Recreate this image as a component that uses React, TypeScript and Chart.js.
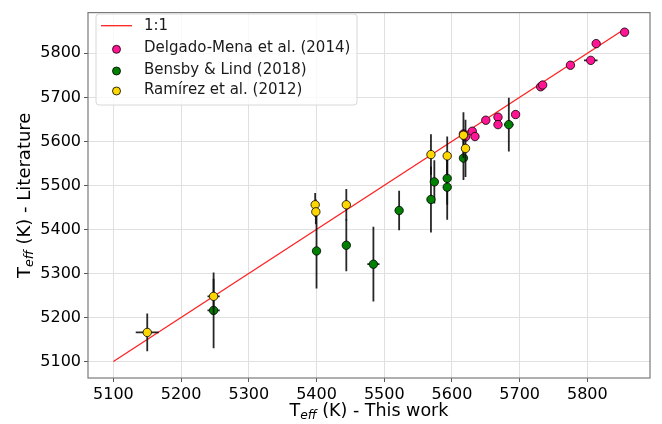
import React, { useEffect, useRef } from "react";
import { Chart, registerables } from "chart.js";

Chart.register(...registerables);

// ---- data ----
const oneToOne = [5100, 5850];

const delgadoX = [5617, 5620, 5630, 5634, 5650, 5668, 5668, 5694, 5731, 5734, 5775, 5805, 5813, 5855];
const delgadoY = [5617, 5610, 5623, 5611, 5648, 5655, 5638, 5661, 5724, 5728, 5773, 5784, 5822, 5848];
const delgadoXErr = [4, 4, 4, 4, 4, 4, 4, 4, 4, 4, 4, 10, 4, 4];
const delgadoYErr = [4, 4, 4, 4, 4, 4, 4, 4, 4, 4, 4, 4, 4, 4];

const bensbyX = [5248, 5400, 5444, 5484, 5522, 5569, 5574, 5593, 5593, 5617, 5684];
const bensbyY = [5216, 5351, 5364, 5321, 5443, 5468, 5508, 5516, 5496, 5562, 5638];
const bensbyXErr = [9, 3, 3, 9, 3, 3, 3, 3, 3, 3, 7];
const bensbyYErr = [86, 85, 59, 85, 45, 75, 49, 60, 74, 50, 61];

const ramirezX = [5150, 5248, 5398, 5399, 5444, 5569, 5593, 5617, 5620];
const ramirezY = [5166, 5248, 5456, 5440, 5456, 5570, 5567, 5614, 5584];
const ramirezXErr = [17, 9, 3, 3, 3, 3, 3, 3, 3];
const ramirezYErr = [43, 40, 27, 28, 36, 46, 44, 52, 65];

const tickValues = [5100, 5200, 5300, 5400, 5500, 5600, 5700, 5800];
const axisMin = 5062.5;
const axisMax = 5892.5;

const labels = ["1:1", "Delgado-Mena et al. (2014)", "Bensby & Lind (2018)", "Ramírez et al. (2012)"];
const colors = ["#ff2020", "#ff1493", "#008000", "#ffd700"];

const FONT = "'DejaVu Sans', sans-serif";

const toPoints = (xs: number[], ys: number[]) => xs.map((x, i) => ({ x, y: ys[i] }));

const errs: Record<number, { x: number[]; y: number[]; xe: number[]; ye: number[] }> = {
  1: { x: delgadoX, y: delgadoY, xe: delgadoXErr, ye: delgadoYErr },
  2: { x: bensbyX, y: bensbyY, xe: bensbyXErr, ye: bensbyYErr },
  3: { x: ramirezX, y: ramirezY, xe: ramirezXErr, ye: ramirezYErr },
};

const errorBarPlugin = {
  id: "errorbars",
  beforeDatasetDraw(chart: any, args: any) {
    const e = errs[args.index];
    if (!e) return;
    const xs = chart.scales.x;
    const ys = chart.scales.y;
    const ctx = chart.ctx;
    ctx.save();
    ctx.strokeStyle = "rgba(15,15,15,0.9)";
    ctx.lineWidth = 1.8;
    for (let i = 0; i < e.x.length; i++) {
      const px = xs.getPixelForValue(e.x[i]);
      const py = ys.getPixelForValue(e.y[i]);
      ctx.beginPath();
      ctx.moveTo(px, ys.getPixelForValue(e.y[i] - e.ye[i]));
      ctx.lineTo(px, ys.getPixelForValue(e.y[i] + e.ye[i]));
      ctx.moveTo(xs.getPixelForValue(e.x[i] - e.xe[i]), py);
      ctx.lineTo(xs.getPixelForValue(e.x[i] + e.xe[i]), py);
      ctx.stroke();
    }
    ctx.restore();
  },
};

function drawTeffLabel(ctx: CanvasRenderingContext2D, rest: string, size: number) {
  ctx.font = `${size}px ${FONT}`;
  const wT = ctx.measureText("T").width;
  ctx.font = `italic ${size * 0.7}px ${FONT}`;
  const wE = ctx.measureText("eff").width;
  ctx.font = `${size}px ${FONT}`;
  const wR = ctx.measureText(rest).width;
  const total = wT + wE + wR;
  let x = -total / 2;
  ctx.textBaseline = "middle";
  ctx.textAlign = "left";
  ctx.fillStyle = "#000";
  ctx.fillText("T", x, 0);
  x += wT;
  ctx.font = `italic ${size * 0.7}px ${FONT}`;
  ctx.fillText("eff", x, size * 0.28);
  x += wE;
  ctx.font = `${size}px ${FONT}`;
  ctx.fillText(rest, x, 0);
}

const decorPlugin = {
  id: "decor",
  afterDraw(chart: any) {
    const ctx = chart.ctx as CanvasRenderingContext2D;
    const a = chart.chartArea;
    ctx.save();
    ctx.strokeStyle = "#7a7a7a";
    ctx.lineWidth = 1.2;
    ctx.strokeRect(a.left, a.top, a.right - a.left, a.bottom - a.top);

    ctx.save();
    ctx.translate((a.left + a.right) / 2, 411);
    drawTeffLabel(ctx, " (K) - This work", 17.5);
    ctx.restore();
    ctx.save();
    ctx.translate(25, (a.top + a.bottom) / 2);
    ctx.rotate(-Math.PI / 2);
    drawTeffLabel(ctx, " (K) - Literature", 18);
    ctx.restore();

    const lx = 96, ly = 14, lw = 261, lh = 91;
    ctx.fillStyle = "rgba(255,255,255,0.8)";
    ctx.strokeStyle = "#d8d8d8";
    ctx.lineWidth = 1;
    ctx.beginPath();
    const r = 3;
    ctx.moveTo(lx + r, ly);
    ctx.arcTo(lx + lw, ly, lx + lw, ly + lh, r);
    ctx.arcTo(lx + lw, ly + lh, lx, ly + lh, r);
    ctx.arcTo(lx, ly + lh, lx, ly, r);
    ctx.arcTo(lx, ly, lx + lw, ly, r);
    ctx.closePath();
    ctx.fill();
    ctx.stroke();

    const rows = [25.7, 48.3, 70, 90];
    ctx.font = `15px ${FONT}`;
    ctx.textBaseline = "middle";
    ctx.textAlign = "left";
    rows.forEach((ry, i) => {
      if (i === 0) {
        ctx.strokeStyle = colors[0];
        ctx.lineWidth = 1.3;
        ctx.beginPath();
        ctx.moveTo(101, ry);
        ctx.lineTo(132, ry);
        ctx.stroke();
      } else {
        ctx.fillStyle = colors[i];
        ctx.strokeStyle = "#000";
        ctx.lineWidth = 0.8;
        ctx.beginPath();
        ctx.arc(116.5, ry + 1, 4, 0, Math.PI * 2);
        ctx.fill();
        ctx.stroke();
      }
      ctx.fillStyle = "#1a1a1a";
      ctx.fillText(labels[i], 144, ry);
    });
    ctx.restore();
  },
};

export default function App() {
  const ref = useRef<HTMLCanvasElement | null>(null);
  useEffect(() => {
    document.body.style.margin = "0";
    if (!ref.current) return;
    const pointStyle = (c: string) => ({
      backgroundColor: c,
      borderColor: "#000",
      borderWidth: 0.8,
      pointRadius: 4.2,
      pointHoverRadius: 4.2,
    });
    const chart = new Chart(ref.current, {
      type: "scatter",
      data: {
        datasets: [
          {
            type: "line",
            label: labels[0],
            data: toPoints(oneToOne, oneToOne),
            borderColor: colors[0],
            borderWidth: 1.3,
            pointRadius: 0,
            showLine: true,
            order: 4,
          } as any,
          { label: labels[1], data: toPoints(delgadoX, delgadoY), ...pointStyle(colors[1]), order: 3 },
          { label: labels[2], data: toPoints(bensbyX, bensbyY), ...pointStyle(colors[2]), order: 2 },
          { label: labels[3], data: toPoints(ramirezX, ramirezY), ...pointStyle(colors[3]), order: 1 },
        ],
      },
      options: {
        animation: false,
        responsive: false,
        maintainAspectRatio: false,
        layout: { padding: { top: 6, right: 12, left: 0, bottom: 0 } },
        plugins: { legend: { display: false }, tooltip: { enabled: false } },
        scales: {
          x: {
            type: "linear",
            min: axisMin,
            max: axisMax,
            afterBuildTicks: (s: any) => {
              s.ticks = tickValues.map((v) => ({ value: v }));
            },
            afterFit: (s: any) => {
              s.height = 46;
            },
            ticks: {
              color: "#000",
              font: { family: FONT, size: 16 },
              padding: 3,
              maxRotation: 0,
              callback: (v: any) => String(v),
            },
            grid: { color: "#e0e0e0", lineWidth: 1, tickLength: 4, tickColor: "#555" },
            border: { display: false },
          },
          y: {
            type: "linear",
            min: axisMin,
            max: axisMax,
            afterBuildTicks: (s: any) => {
              s.ticks = tickValues.map((v) => ({ value: v }));
            },
            afterFit: (s: any) => {
              s.width = 88;
            },
            ticks: {
              color: "#000",
              font: { family: FONT, size: 16 },
              padding: 3,
              callback: (v: any) => String(v),
            },
            grid: { color: "#e0e0e0", lineWidth: 1, tickLength: 4, tickColor: "#555" },
            border: { display: false },
          },
        },
      },
      plugins: [errorBarPlugin, decorPlugin],
    });
    return () => chart.destroy();
  }, []);
  return (
    <div style={{ width: 662, height: 424, background: "#fff" }}>
      <canvas ref={ref} width={662} height={424} style={{ display: "block" }} />
    </div>
  );
}
